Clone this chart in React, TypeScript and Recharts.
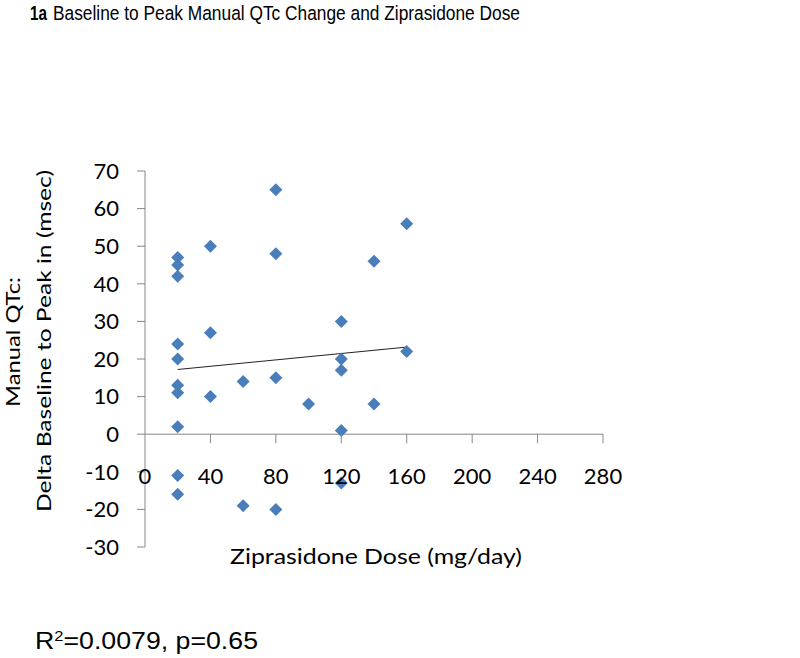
import React from "react";
import {
  ScatterChart,
  Scatter,
  XAxis,
  YAxis,
  ReferenceLine,
  ReferenceDot,
} from "recharts";

// Ziprasidone dose (mg/day) for each subject
const DOSE = [
  20, 20, 20, 20, 20, 20, 20, 20, 20, 20,
  40, 40, 40,
  60, 60,
  80, 80, 80, 80,
  100,
  120, 120, 120, 120, 120,
  140, 140,
  160, 160,
];
// Manual QTc change, baseline to peak (msec)
const QTC_CHANGE = [
  47, 45, 42, 24, 20, 13, 11, 2, -11, -16,
  50, 27, 10,
  14, -19,
  65, 48, 15, -20,
  8,
  30, 20, 17, 1, -13,
  46, 8,
  56, 22,
];
const X_TICKS = [0, 40, 80, 120, 160, 200, 240, 280];
const Y_TICKS = [-30, -20, -10, 0, 10, 20, 30, 40, 50, 60, 70];

const TITLE_BOLD = "1a";
const TITLE_REST = "Baseline to Peak Manual QTc Change and Ziprasidone Dose";
const X_LABEL = "Ziprasidone Dose (mg/day)";
const Y_LABEL_1 = "Manual QTc:";
const Y_LABEL_2 = "Delta Baseline to Peak in (msec)";
const STATS_TEXT = "=0.0079, p=0.65";

const points = DOSE.map((x, i) => ({ x, y: QTC_CHANGE[i] }));

// least-squares trend line across the observed dose range
const n = points.length;
const mx = DOSE.reduce((a, b) => a + b, 0) / n;
const my = QTC_CHANGE.reduce((a, b) => a + b, 0) / n;
let sxy = 0;
let sxx = 0;
points.forEach((p) => {
  sxy += (p.x - mx) * (p.y - my);
  sxx += (p.x - mx) * (p.x - mx);
});
const slope = sxy / sxx;
const intercept = my - slope * mx;
const xMin = Math.min(...DOSE);
const xMax = Math.max(...DOSE);
const trend = [
  { x: xMin, y: intercept + slope * xMin },
  { x: xMax, y: intercept + slope * xMax },
];

const BLUE = "#4A7EBB";
const AXIS = "#868686";
const CAL = "Lato, 'Open Sans', sans-serif";
const ARIAL = "'Liberation Sans', Arial, sans-serif";

const Diamond = (props: any) => {
  const { cx, cy } = props;
  const r = 6.5;
  return (
    <polygon
      points={`${cx},${cy - r} ${cx + r},${cy} ${cx},${cy + r} ${cx - r},${cy}`}
      fill={BLUE}
    />
  );
};

const makeXTick = (label: number) => (props: any) => {
  const { cx, cy } = props;
  return (
    <g>
      {label !== 0 && (
        <line x1={cx} y1={cy} x2={cx} y2={cy + 9} stroke={AXIS} strokeWidth={1} />
      )}
      <text
        x={cx}
        y={cy + 50}
        textAnchor="middle"
        fontFamily={CAL}
        fontSize={22}
        fill="#000"
      >
        {label}
      </text>
    </g>
  );
};

export default function App() {
  return (
    <div style={{ position: "absolute", left: 0, top: 0, width: 800, height: 658, background: "#fff" }}>
      <ScatterChart
        width={800}
        height={658}
        margin={{ top: 171, right: 197, bottom: 111, left: 0 }}
      >
        <XAxis type="number" dataKey="x" domain={[0, 280]} ticks={X_TICKS} hide />
        <YAxis
          type="number"
          dataKey="y"
          domain={[-30, 70]}
          ticks={Y_TICKS}
          width={145}
          interval={0}
          axisLine={{ stroke: AXIS, strokeWidth: 1 }}
          tickLine={{ stroke: AXIS, strokeWidth: 1 }}
          tickSize={8}
          tickMargin={18}
          tick={{ fill: "#000", fontSize: 22, fontFamily: CAL }}
        />
        <ReferenceLine y={0} stroke={AXIS} strokeWidth={1} />
        <ReferenceLine
          segment={trend}
          stroke="#222"
          strokeWidth={1}
        />
        <Scatter data={points} shape={Diamond} isAnimationActive={false} />
        {X_TICKS.map((t) => (
          <ReferenceDot key={t} x={t} y={0} r={0} shape={makeXTick(t)} />
        ))}
      </ScatterChart>
      <svg
        width={800}
        height={658}
        style={{ position: "absolute", left: 0, top: 0, pointerEvents: "none" }}
      >
        <text
          x={30}
          y={20}
          fontFamily={ARIAL}
          fontSize={20.5}
          fontWeight="bold"
          fill="#000"
          textLength={17}
          lengthAdjust="spacingAndGlyphs"
        >
          {TITLE_BOLD}
        </text>
        <text
          x={53}
          y={20}
          fontFamily={ARIAL}
          fontSize={20.5}
          fill="#000"
          textLength={467}
          lengthAdjust="spacingAndGlyphs"
        >
          {TITLE_REST}
        </text>
        <text
          transform="translate(20,342) rotate(-90)"
          textAnchor="middle"
          fontFamily={CAL}
          fontSize={20}
          fill="#000"
          textLength={130}
          lengthAdjust="spacingAndGlyphs"
        >
          {Y_LABEL_1}
        </text>
        <text
          transform="translate(51,341) rotate(-90)"
          textAnchor="middle"
          fontFamily={CAL}
          fontSize={20}
          fill="#000"
          textLength={342}
          lengthAdjust="spacingAndGlyphs"
        >
          {Y_LABEL_2}
        </text>
        <text
          x={230}
          y={564}
          fontFamily={CAL}
          fontSize={20.5}
          fill="#000"
          textLength={292}
          lengthAdjust="spacingAndGlyphs"
        >
          {X_LABEL}
        </text>
        <text
          x={35}
          y={649}
          fontFamily={ARIAL}
          fontSize={23.5}
          fill="#000"
          textLength={223}
          lengthAdjust="spacingAndGlyphs"
        >
          R
          <tspan fontSize={14.5} dy={-8}>2</tspan>
          <tspan dy={8}>{STATS_TEXT}</tspan>
        </text>
      </svg>
    </div>
  );
}
